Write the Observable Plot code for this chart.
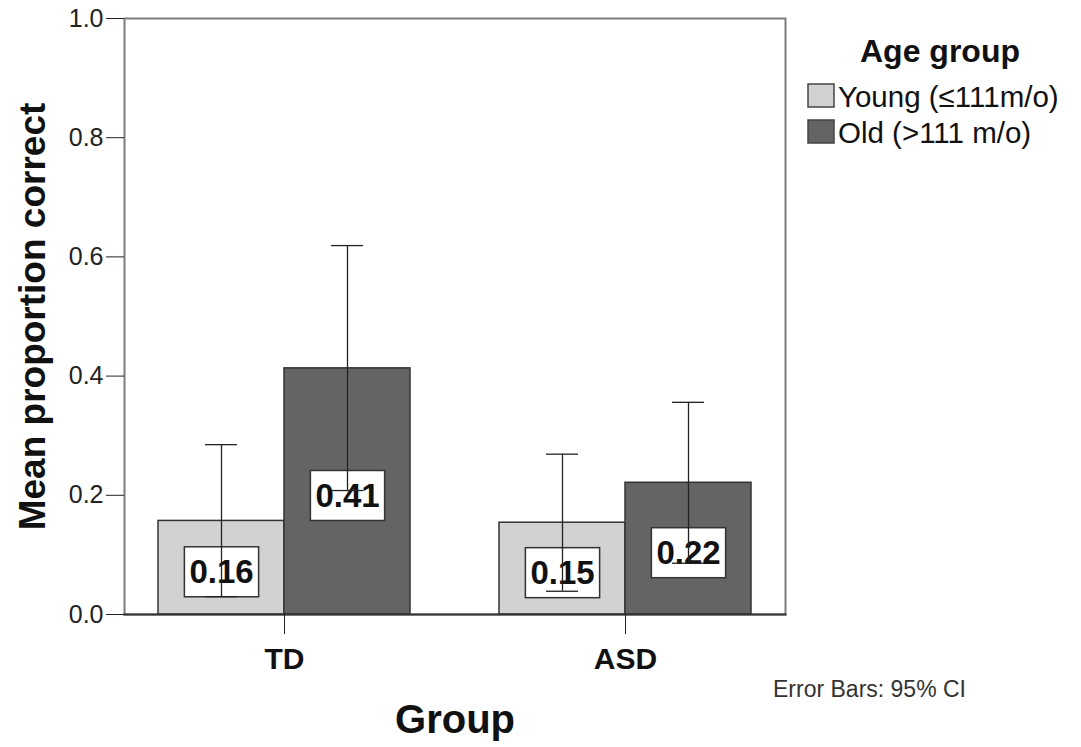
<!DOCTYPE html>
<html><head><meta charset="utf-8">
<script src="https://cdn.jsdelivr.net/npm/d3@7"></script>
<script src="https://cdn.jsdelivr.net/npm/@observablehq/plot@0.6"></script>
<style>
body{margin:0;background:#fff;}
#wrap{position:relative;width:1081px;height:747px;font-family:"Liberation Sans",Arial,sans-serif;}
#wrap svg.overlay{position:absolute;left:0;top:0;}
#wrap g[aria-label="y-axis tick label"] text{font-size:25px;}
#wrap g[aria-label="y-axis label"] text{font-size:37px;font-weight:bold;fill:#111;}
#wrap g[aria-label="fx-axis tick label"] text{font-size:30px;font-weight:bold;fill:#111;}
#wrap g[aria-label="fx-axis label"] text{font-size:40px;font-weight:bold;fill:#111;}
</style></head><body><div id="wrap"></div>
<script>
const groups = ["TD", "ASD"];
const ageKeys = ["Young", "Old"];
const ageLabels = ["Young (≤111m/o)", "Old (>111 m/o)"];
const ageColors = ["#d2d2d2", "#646464"];
const meanValues = [[0.157, 0.413], [0.154, 0.221]];
const ciLow = [[0.030, 0.208], [0.039, 0.086]];
const ciHigh = [[0.285, 0.619], [0.269, 0.356]];
const yTicks = [0, 0.2, 0.4, 0.6, 0.8, 1.0];
const legendTitle = "Age group";
const captionText = "Error Bars: 95% CI";

const data = [];
groups.forEach((g, i) => ageKeys.forEach((a, j) => data.push({
  group: g, age: a, mean: meanValues[i][j], lo: ciLow[i][j], hi: ciHigh[i][j]
})));

const font = '"Liberation Sans", Arial, sans-serif';
const plot = Plot.plot({
  width: 1081, height: 747,
  marginLeft: 123, marginRight: 296, marginTop: 18, marginBottom: 133,
  style: {fontFamily: font, background: "white", color: "#222"},
  fx: {domain: groups, paddingInner: 0.0616, paddingOuter: 0, label: "Group"},
  x: {domain: ageKeys, paddingInner: 0, paddingOuter: 0.26, axis: null},
  y: {domain: [0, 1]},
  color: {domain: ageKeys, range: ageColors},
  marks: [
    Plot.frame({facet: "super", stroke: "#7d7d7d", strokeWidth: 2}),
    Plot.barY(data, {fx: "group", x: "age", y: "mean", fill: "age", stroke: "#333", strokeWidth: 1.5}),
    Plot.text(data, {fx: "group", x: "age", y: d => d.mean / 2, text: d => d3.format(".2f")(d.mean),
      dy: 5, fontSize: 33, fontWeight: "bold", fill: "#111"}),
    Plot.ruleX(data, {fx: "group", x: "age", y1: "lo", y2: "hi", stroke: "#222", strokeWidth: 1.3}),
    Plot.tickY(data, {fx: "group", x: "age", y: "hi", insetLeft: 47, insetRight: 47, stroke: "#222", strokeWidth: 1.3}),
    Plot.tickY(data, {fx: "group", x: "age", y: "lo", insetLeft: 47, insetRight: 47, stroke: "#222", strokeWidth: 1.3}),
    Plot.frame({facet: "super", anchor: "bottom", stroke: "#333", strokeWidth: 2}),
    Plot.axisY({ticks: yTicks, tickFormat: ".1f", tickSize: 18, tickPadding: 3, fontSize: 25,
      label: "Mean proportion correct", labelAnchor: "center", labelArrow: "none", labelOffset: 106,
      line: true, color: "#222"}),
    Plot.axisFx({anchor: "bottom", tickSize: 20, tickPadding: 13, fontSize: 30, fontWeight: "bold",
      label: "Group", labelAnchor: "center", labelArrow: "none", labelOffset: 118, color: "#222"})
  ]
});
const wrap = document.getElementById("wrap");
wrap.append(plot);

// white boxes behind the value labels
const svgns = "http://www.w3.org/2000/svg";
wrap.querySelectorAll('g[aria-label="text"] text').forEach(t => {
  const b = t.getBBox();
  const r = document.createElementNS(svgns, "rect");
  r.setAttribute("x", b.x - 5);
  r.setAttribute("y", b.y - 6.5);
  r.setAttribute("width", b.width + 10);
  r.setAttribute("height", b.height + 13);
  r.setAttribute("fill", "white");
  r.setAttribute("stroke", "#333");
  r.setAttribute("stroke-width", 1.5);
  const tr = t.getAttribute("transform");
  if (tr) r.setAttribute("transform", tr);
  t.parentNode.insertBefore(r, t);
});

// legend and caption overlay
const ov = d3.select(wrap).append("svg").attr("class", "overlay")
  .attr("width", 1081).attr("height", 747).style("pointer-events", "none")
  .style("font-family", font);
ov.append("text").attr("x", 940).attr("y", 62).attr("text-anchor", "middle")
  .attr("font-size", 32).attr("font-weight", "bold").attr("fill", "#111").text(legendTitle);
const rows = ov.selectAll("g.row").data(ageLabels).join("g").attr("class", "row")
  .attr("transform", (d, i) => `translate(808,${84 + i * 36})`);
rows.append("rect").attr("width", 26).attr("height", 23)
  .attr("fill", (d, i) => ageColors[i]).attr("stroke", "#444").attr("stroke-width", 1.5);
rows.append("text").attr("x", 30).attr("y", 23).attr("font-size", 29.5).attr("fill", "#111").text(d => d);
ov.append("text").attr("x", 773).attr("y", 697).attr("font-size", 23).attr("fill", "#333").text(captionText);
</script></body></html>
